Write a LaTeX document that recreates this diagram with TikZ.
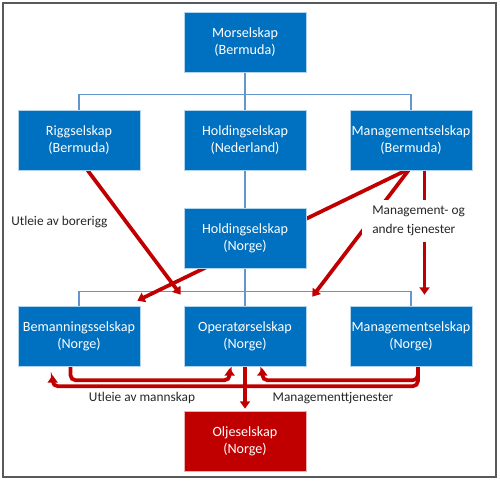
\documentclass[tikz,border=0pt]{standalone}
\usepackage{fontspec}
\setmainfont{Carlito}
\usepackage{tikz}
\usetikzlibrary{arrows.meta, positioning, calc, backgrounds}
\definecolor{boxblue}{RGB}{0, 112, 192}
\definecolor{treeblue}{RGB}{100, 149, 205}
\definecolor{flowred}{RGB}{192, 0, 0}
\definecolor{framegray}{RGB}{89, 89, 89}
\definecolor{textgray}{RGB}{38, 38, 38}

\begin{document}
\begin{tikzpicture}[x=0.75pt, y=-0.75pt,
  company/.style={rectangle, fill=boxblue, draw=white!70!boxblue, line width=0.5pt, text=white,
    minimum width=91.5pt, minimum height=45pt, inner sep=0pt, align=center,
    font=\fontsize{10.6}{12.8}\selectfont},
  oilbox/.style={company, fill=flowred, draw=white!70!flowred},
  treeline/.style={draw=treeblue, line width=1.1pt},
  flowarrow/.style={draw=flowred, line width=2.8pt, -{Triangle[length=5.5pt, width=7.5pt]}},
  note/.style={text=textgray, font=\fontsize{10}{13.8}\selectfont, inner sep=0pt}]
\useasboundingbox (0,0) rectangle (500,481);

% Frame
\draw[framegray, line width=1.8pt] (3,3) rectangle (496,477);

% Parent
\node[company] (mor) at (245,42) {Morselskap\\(Bermuda)};

% Second level
\node[company] (rigg) at (79,140) {Riggselskap\\(Bermuda)};
\node[company] (holdnl) at (245,140) {Holdingselskap\\(Nederland)};
\node[company] (mgmtbm) at (411,140) {Managementselskap\\(Bermuda)};

% Norwegian holding
\node[company] (holdno) at (245,238) {Holdingselskap\\(Norge)};

% Norwegian companies
\node[company] (beman) at (79,336) {Bemanningsselskap\\(Norge)};
\node[company] (oper) at (245,336) {Operatørselskap\\(Norge)};
\node[company] (mgmtno) at (411,336) {Managementselskap\\(Norge)};

% Customer
\node[oilbox] (olje) at (245,441) {Oljeselskap\\(Norge)};

\begin{scope}[on background layer]
% Ownership lines
\draw[treeline] (mor.south) -- (holdnl.north);
\draw[treeline] (rigg.north) -- ++(0,-15) -| (mgmtbm.north);
\draw[treeline] (holdnl.south) -- (holdno.north);
\draw[treeline] (holdno.south) -- (oper.north);
\draw[treeline] (beman.north) -- ++(0,-14) -| (mgmtno.north);

% Rig rental
\draw[flowarrow] ($(rigg.south west)!0.57!(rigg.south east)$) -- ($(oper.north west)+(-3,-11)$);

% Management services from Bermuda
\draw[flowarrow] ($(mgmtbm.south west)!0.46!(mgmtbm.south east)$) -- ($(beman.north east)+(-3,-5)$);
\draw[flowarrow] ($(mgmtbm.south west)!0.48!(mgmtbm.south east)$) -- ($(oper.north east)+(6,-9)$);
\coordinate (mgmtdown) at ($(mgmtbm.south west)!0.61!(mgmtbm.south east)$);
\draw[flowarrow] (mgmtdown) -- ($(mgmtdown |- mgmtno.north)+(0,-11)$);

% Crew and management to operator
\draw[flowarrow, rounded corners=4pt] ($(beman.south west)!0.43!(beman.south east)$) -- ++(0,14) -| ($(oper.south west)+(46,2)$);
\coordinate (mgmtup) at ($(mgmtno.south west)!0.557!(mgmtno.south east)$);
\draw[flowarrow, rounded corners=4pt] (mgmtup) -- ++(0,14) -| ($(oper.south east)+(-44,2)$);
\draw[flowarrow, rounded corners=4pt] (mgmtup) -- ++(0,20) -| ($(beman.south west)+(35,9)$);

% Operator to oil company
\draw[flowarrow] (oper.south) -- ($(olje.north)+(0,-2)$);
\end{scope}

% Labels
\node[note, anchor=west] (lblrig) at (11,222) {Utleie av borerigg};
\node[note, fill=white, align=left, anchor=west, inner xsep=7.5pt, inner ysep=5pt] (lblmgmt) at (362,221) {Management- og\\andre tjenester};
\node[note] (lblcrew) at (142,398) {Utleie av mannskap};
\node[note] (lblsvc) at (333,398) {Managementtjenester};
\end{tikzpicture}
\end{document}
